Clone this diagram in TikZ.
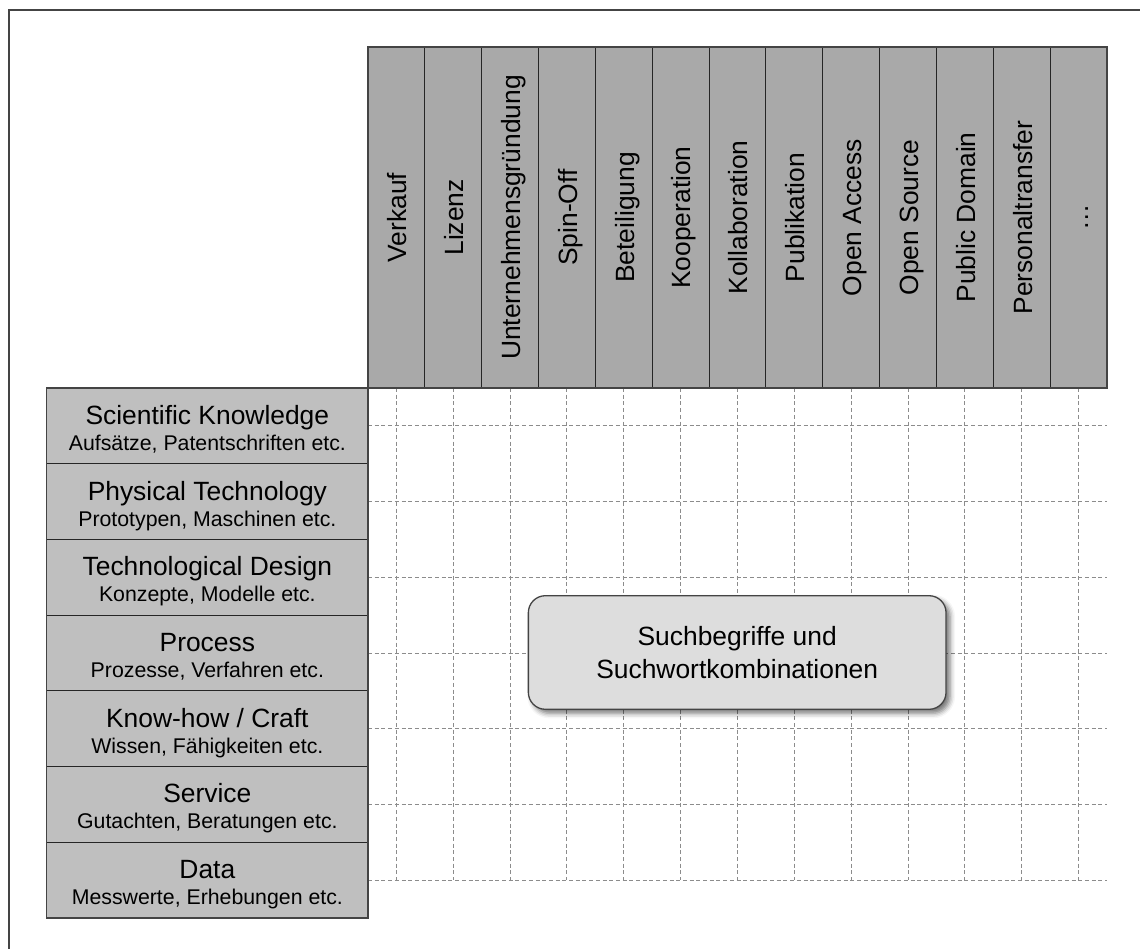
\documentclass[tikz,border=0pt]{standalone}
\usepackage{fontspec}
\setmainfont{Liberation Sans}
\usetikzlibrary{calc,shadows.blur}

\definecolor{frame}{HTML}{444444}
\definecolor{cellline}{HTML}{262626}
\definecolor{headfill}{HTML}{A9A9A9}
\definecolor{rowfill}{HTML}{BFBFBF}
\definecolor{boxfill}{HTML}{DDDDDD}
\definecolor{gridline}{HTML}{8C8C8C}

\newcommand\bigtext{\fontsize{26.4}{32.6}\selectfont}
\newcommand\smalltext{\fontsize{21.3}{25}\selectfont}

\begin{document}
\begin{tikzpicture}[x=1pt,y=-1pt,
  headcell/.style={draw=cellline, line width=0.9pt, fill=headfill,
    minimum width=56.846pt, minimum height=341pt, inner sep=0pt,
    outer sep=0pt, anchor=north west},
  headlabel/.style={rotate=90, anchor=base, font=\bigtext, inner sep=0pt},
  rowcell/.style={draw=cellline, line width=0.9pt, fill=rowfill,
    minimum width=321.3pt, minimum height=75.714pt, inner sep=0pt,
    outer sep=0pt, anchor=north west},
  rowtitle/.style={anchor=base, font=\bigtext, inner sep=0pt},
  rowsub/.style={anchor=base, font=\smalltext, inner sep=0pt},
  gridstroke/.style={draw=gridline, line width=1pt, dash pattern=on 4pt off 2.7pt},
  outline/.style={draw=frame, line width=1.4pt},
  searchbox/.style={draw=frame, line width=1.3pt, fill=boxfill,
    rounded corners=17pt, minimum width=417.7pt, minimum height=113.6pt,
    align=center, font=\bigtext,
    blur shadow={shadow xshift=4pt, shadow yshift=-4pt,
      shadow blur radius=5pt, shadow opacity=55}},
]
\useasboundingbox (0,0) rectangle (1140,949);

% page frame (only its left and top edges fall on the page)
\draw[outline] (9,960) -- (9,10) -- (1150,10);

% dashed matrix grid through the cell centres
\foreach \i in {0,...,12}
  \draw[gridstroke] ({368+56.846*(\i+0.5)},388) -- ({368+56.846*(\i+0.5)},880.1);
\foreach \j in {0,...,6}
  \draw[gridstroke] (368,{388+75.714*(\j+0.5)}) -- (1107,{388+75.714*(\j+0.5)});

% column headers: transfer channels
\foreach \lbl [count=\i] in {Verkauf,Lizenz,Unternehmensgründung,Spin-Off,
    Beteiligung,Kooperation,Kollaboration,Publikation,Open Access,
    Open Source,Public Domain,Personaltransfer,…} {
  \node[headcell] (c\i) at ({368+56.846*(\i-1)},47) {};
  \node[headlabel] (lab\i) at ($(c\i.center)+(10.3,0)$) {\lbl};
}
\draw[outline] (c1.north west) rectangle (c13.south east);

% row headers: kinds of transferable objects
\newcommand\kindrow[3]{%
  \node[rowcell] (r#1) at (46.7,{388+75.714*(#1-1)}) {};
  \node[rowtitle] (r#1a) at ($(r#1.north)+(0,36.4)$) {#2};
  \node[rowsub] (r#1b) at ($(r#1.north)+(0,62.4)$) {#3};
}
\kindrow{1}{Scientific Knowledge}{Aufsätze, Patentschriften etc.}
\kindrow{2}{Physical Technology}{Prototypen, Maschinen etc.}
\kindrow{3}{Technological Design}{Konzepte, Modelle etc.}
\kindrow{4}{Process}{Prozesse, Verfahren etc.}
\kindrow{5}{Know-how / Craft}{Wissen, Fähigkeiten etc.}
\kindrow{6}{Service}{Gutachten, Beratungen etc.}
\kindrow{7}{Data}{Messwerte, Erhebungen etc.}
\draw[outline] (r1.north west) rectangle (r7.south east);

% central search-term box
\node[searchbox] (box) at (737.2,652.5) {Suchbegriffe und\\Suchwortkombinationen};
\end{tikzpicture}
\end{document}
